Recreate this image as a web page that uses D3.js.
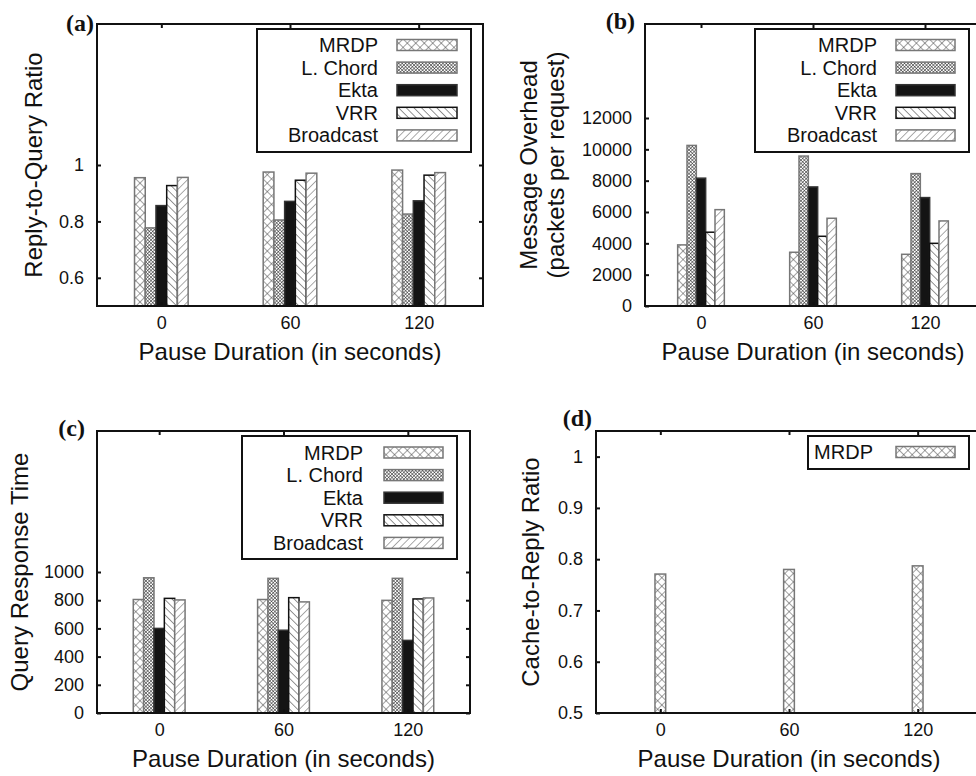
<!DOCTYPE html>
<html>
<head>
<meta charset="utf-8">
<script src="https://cdn.jsdelivr.net/npm/d3@7"></script>
<style>
  html, body { margin: 0; padding: 0; background: #fff; }
  svg { display: block; }
  text { font-family: "Liberation Sans", Arial, Helvetica, sans-serif; fill: #111; }
  .plabel { font-family: "Liberation Serif", "Times New Roman", serif; font-weight: bold; }
</style>
</head>
<body>
<svg id="chart" width="976" height="776"></svg>
<script>
// ---------------- DATA ----------------
const categories = [0, 60, 120];
const seriesNames = ["MRDP", "L. Chord", "Ekta", "VRR", "Broadcast"];

// (a) Reply-to-Query Ratio  [MRDP, L. Chord, Ekta, VRR, Broadcast] x [0, 60, 120]
const replyMRDP      = [0.955, 0.975, 0.982];
const replyLChord    = [0.777, 0.805, 0.826];
const replyEkta      = [0.856, 0.871, 0.873];
const replyVRR       = [0.927, 0.946, 0.964];
const replyBroadcast = [0.956, 0.971, 0.973];
const replyTicks     = [0.6, 0.8, 1];

// (b) Message Overhead (packets per request)
const overheadMRDP      = [3900, 3430, 3300];
const overheadLChord    = [10250, 9570, 8450];
const overheadEkta      = [8160, 7600, 6920];
const overheadVRR       = [4710, 4450, 4000];
const overheadBroadcast = [6150, 5600, 5430];
const overheadTicks     = [0, 2000, 4000, 6000, 8000, 10000, 12000];

// (c) Query Response Time
const responseMRDP      = [805, 805, 799];
const responseLChord    = [959, 955, 955];
const responseEkta      = [600, 587, 515];
const responseVRR       = [813, 818, 809];
const responseBroadcast = [802, 788, 816];
const responseTicks     = [0, 200, 400, 600, 800, 1000];

// (d) Cache-to-Reply Ratio
const cacheMRDP  = [0.771, 0.780, 0.787];
const cacheTicks = [0.5, 0.6, 0.7, 0.8, 0.9, 1];

const xTickLabels = ["0", "60", "120"];
const xTitle = "Pause Duration (in seconds)";

// ---------------- DRAWING ----------------
const svg = d3.select("#chart");
const defs = svg.append("defs");

function linePattern(id, size, angle, stroke, sw, cross) {
  const p = defs.append("pattern")
    .attr("id", id).attr("patternUnits", "userSpaceOnUse")
    .attr("width", size).attr("height", size)
    .attr("patternTransform", `rotate(${angle})`);
  p.append("rect").attr("width", size).attr("height", size).attr("fill", "#fff");
  p.append("line").attr("x1", 0).attr("y1", 0).attr("x2", 0).attr("y2", size)
    .attr("stroke", stroke).attr("stroke-width", sw);
  if (cross) {
    p.append("line").attr("x1", 0).attr("y1", 0).attr("x2", size).attr("y2", 0)
      .attr("stroke", stroke).attr("stroke-width", sw);
  }
}
linePattern("pMRDP", 6, 45, "#444", 1.0, true);
linePattern("pLChord", 2.4, 45, "#222", 1.0, true);
linePattern("pVRR", 5.4, -45, "#111", 0.9, false);
linePattern("pBcast", 5.4, 45, "#444", 0.9, false);

const fills   = ["url(#pMRDP)", "url(#pLChord)", "#141414", "url(#pVRR)", "url(#pBcast)"];
const strokes = ["#777", "#777", "#333", "#111", "#777"];

function drawPanel(cfg) {
  const g = svg.append("g");
  const x = d3.scaleLinear().domain([-30, 150]).range([cfg.left, cfg.right]);
  const y = d3.scaleLinear().domain(cfg.yDomain).range([cfg.bottom, cfg.top]);
  const barW = 5;
  const n = cfg.series.length;

  // bars
  cfg.series.forEach((vals, si) => {
    const idx = cfg.seriesIdx[si];
    g.selectAll(null).data(vals).enter().append("rect")
      .attr("x", (d, i) => x(categories[i] + (si - n / 2) * barW))
      .attr("width", x(barW) - x(0))
      .attr("y", d => y(d))
      .attr("height", d => y(cfg.yDomain[0]) - y(d))
      .attr("fill", fills[idx])
      .attr("stroke", strokes[idx])
      .attr("stroke-width", 1.5);
  });

  // axes (inward ticks, mirrored)
  const fmt = d => String(d);
  const left = d3.axisLeft(y).tickValues(cfg.yTicks).tickSize(-4).tickPadding(13).tickFormat(fmt);
  const right = d3.axisRight(y).tickValues(cfg.yTicks).tickSize(-4).tickFormat("");
  const bottom = d3.axisBottom(x).tickValues(categories).tickSize(-4).tickPadding(10)
    .tickFormat((d, i) => xTickLabels[i]);
  const top = d3.axisTop(x).tickValues(categories).tickSize(-4).tickFormat("");

  function style(sel) {
    sel.select(".domain").remove();
    sel.selectAll(".tick line").attr("stroke", "#111").attr("stroke-width", 2);
    sel.selectAll(".tick text").attr("font-size", 18)
      .attr("font-family", '"Liberation Sans", Arial, sans-serif').attr("fill", "#111");
  }
  g.append("g").attr("transform", `translate(${cfg.left},0)`).call(left).call(style);
  g.append("g").attr("transform", `translate(${cfg.right},0)`).call(right).call(style);
  g.append("g").attr("transform", `translate(0,${cfg.bottom})`).call(bottom).call(style);
  g.append("g").attr("transform", `translate(0,${cfg.top})`).call(top).call(style);

  // frame
  g.append("rect")
    .attr("x", cfg.left).attr("y", cfg.top)
    .attr("width", cfg.right - cfg.left).attr("height", cfg.bottom - cfg.top)
    .attr("fill", "none").attr("stroke", "#111").attr("stroke-width", 2);

  // x title
  g.append("text").attr("x", (cfg.left + cfg.right) / 2).attr("y", cfg.bottom + 54)
    .attr("text-anchor", "middle").attr("font-size", 24).text(xTitle);

  // y title
  const cy = (cfg.top + cfg.bottom) / 2;
  cfg.yTitle.forEach((t, i) => {
    g.append("text")
      .attr("transform", `translate(${cfg.yTitleX[i]},${cy}) rotate(-90)`)
      .attr("text-anchor", "middle").attr("font-size", 24).text(t);
  });

  // panel label
  g.append("text").attr("class", "plabel")
    .attr("x", cfg.plabel[0]).attr("y", cfg.plabel[1])
    .attr("text-anchor", "end").attr("font-size", 24).text(cfg.plabelText);

  // legend
  const L = cfg.legend;
  g.append("rect").attr("x", L.x0).attr("y", L.y0)
    .attr("width", L.x1 - L.x0).attr("height", L.y1 - L.y0)
    .attr("fill", "#fff").attr("stroke", "#111").attr("stroke-width", 2);
  cfg.seriesIdx.forEach((idx, k) => {
    const ry = L.rowY + k * 22.6;
    g.append("text").attr("x", L.textX).attr("y", ry + 7)
      .attr("text-anchor", L.anchor).attr("font-size", 20).text(seriesNames[idx]);
    g.append("rect").attr("x", L.sx0).attr("y", ry - 5.5)
      .attr("width", L.sx1 - L.sx0).attr("height", 11)
      .attr("fill", fills[idx]).attr("stroke", strokes[idx]).attr("stroke-width", 1.5);
  });
}

drawPanel({
  left: 97, right: 483, top: 24, bottom: 306,
  yDomain: [0.5, 1.5], yTicks: replyTicks,
  series: [replyMRDP, replyLChord, replyEkta, replyVRR, replyBroadcast],
  seriesIdx: [0, 1, 2, 3, 4],
  yTitle: ["Reply-to-Query Ratio"], yTitleX: [41.5],
  plabel: [94, 31], plabelText: "(a)",
  legend: { x0: 257, x1: 471, y0: 29, y1: 152, rowY: 45, textX: 378, anchor: "end", sx0: 397, sx1: 457 }
});

drawPanel({
  left: 645, right: 981, top: 24, bottom: 306,
  yDomain: [0, 18000], yTicks: overheadTicks,
  series: [overheadMRDP, overheadLChord, overheadEkta, overheadVRR, overheadBroadcast],
  seriesIdx: [0, 1, 2, 3, 4],
  yTitle: ["Message Overhead", "(packets per request)"], yTitleX: [537, 564],
  plabel: [635, 29], plabelText: "(b)",
  legend: { x0: 755, x1: 969, y0: 29, y1: 152, rowY: 45, textX: 877, anchor: "end", sx0: 896, sx1: 955 }
});

drawPanel({
  left: 97, right: 470, top: 431, bottom: 713,
  yDomain: [0, 2000], yTicks: responseTicks,
  series: [responseMRDP, responseLChord, responseEkta, responseVRR, responseBroadcast],
  seriesIdx: [0, 1, 2, 3, 4],
  yTitle: ["Query Response Time"], yTitleX: [28],
  plabel: [85, 436], plabelText: "(c)",
  legend: { x0: 242, x1: 457, y0: 436, y1: 559, rowY: 452.5, textX: 363, anchor: "end", sx0: 384, sx1: 443 }
});

drawPanel({
  left: 596, right: 982, top: 431, bottom: 713,
  yDomain: [0.5, 1.05], yTicks: cacheTicks,
  series: [cacheMRDP],
  seriesIdx: [0],
  yTitle: ["Cache-to-Reply Ratio"], yTitleX: [539],
  plabel: [592, 426], plabelText: "(d)",
  legend: { x0: 808, x1: 969, y0: 436, y1: 469, rowY: 452, textX: 873, anchor: "end", sx0: 896, sx1: 955 }
});
</script>
</body>
</html>
